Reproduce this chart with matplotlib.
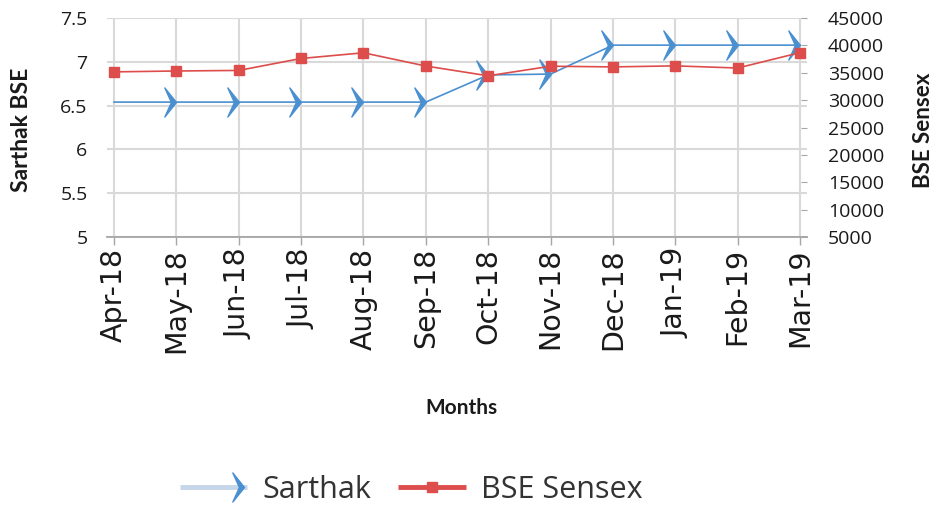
import numpy as np
import matplotlib
matplotlib.use("Agg")
import matplotlib.pyplot as plt
from matplotlib.path import Path
from matplotlib.lines import Line2D
from matplotlib.legend_handler import HandlerBase

# data
months = ['Apr-18', 'May-18', 'Jun-18', 'Jul-18', 'Aug-18', 'Sep-18',
          'Oct-18', 'Nov-18', 'Dec-18', 'Jan-19', 'Feb-19', 'Mar-19']
sarthak = [6.54, 6.54, 6.54, 6.54, 6.54, 6.54, 6.85, 6.86, 7.19, 7.19, 7.19, 7.19]
sensex = [35160, 35322, 35423, 37607, 38645, 36227, 34442, 36194, 36068, 36257, 35867, 38673]

blue = '#4a90d0'
red = '#dc4d4b'
grid_col = '#d9d9d9'
txt_col = '#1a1a1a'

# chevron marker, tip sits on the data point
chevron = Path([(-0.8, 1), (0, 0), (-0.8, -1), (-0.35, 0), (-0.8, 1)],
               [Path.MOVETO, Path.LINETO, Path.LINETO, Path.LINETO, Path.CLOSEPOLY])


# legend handle: thick line, marker either in the middle or at the right end
class LegHandle(HandlerBase):
    def __init__(self, line_col, at_end=False):
        super().__init__()
        self.line_col = line_col
        self.at_end = at_end

    def create_artists(self, legend, orig_handle, xdescent, ydescent, width, height, fontsize, trans):
        y = height / 2 - ydescent
        x0, x1 = -xdescent, width - xdescent
        line = Line2D([x0, x1], [y, y], lw=3.5, color=self.line_col, solid_capstyle='butt')
        xm = x1 - 2 if self.at_end else (x0 + x1) / 2
        mark = Line2D([xm], [y], ls='None', marker=orig_handle.get_marker(),
                      ms=orig_handle.get_markersize(), color=orig_handle.get_color())
        line.set_transform(trans)
        mark.set_transform(trans)
        return [line, mark]


fig = plt.figure(figsize=(9.37, 5.08), dpi=100)
ax = fig.add_axes([107/937, 1-237/508, 700/937, 219/508])
ax2 = ax.twinx()

x = np.arange(len(months))
l1, = ax.plot(x, sarthak, color=blue, lw=1.2, marker=chevron, ms=21,
              markevery=list(range(1, len(months))), label='Sarthak', zorder=3)
l2, = ax2.plot(x, sensex, color=red, lw=1.2, marker='s', ms=6.5,
               label='BSE Sensex', clip_on=False, zorder=3)

ax.set_xlim(-0.112, len(months) - 1 + 0.112)
ax.set_ylim(5, 7.5)
ax.set_yticks(np.arange(5, 7.51, 0.5))
ax.set_yticklabels(['5', '5.5', '6', '6.5', '7', '7.5'])
ax2.set_ylim(5000, 45000)
ax2.set_yticks(np.arange(5000, 45001, 5000))

ax.set_xticks(x)
ax.set_xticklabels(months, rotation=90, fontsize=20.5, family='DejaVu Sans', color=txt_col)

ax.grid(True, color=grid_col, lw=1.5)
ax.set_axisbelow(True)
for s in ['top', 'left', 'right']:
    ax.spines[s].set_visible(False)
    ax2.spines[s].set_visible(False)
ax2.spines['bottom'].set_visible(False)
ax.spines['bottom'].set_color('#a6a6a6')
ax.spines['bottom'].set_linewidth(1.3)

ax.tick_params(axis='x', direction='out', length=6, width=1, color='#a6a6a6', pad=2)
ax.tick_params(axis='y', length=0, pad=14, labelsize=14, labelcolor=txt_col)
ax2.tick_params(axis='y', direction='in', length=4, color='#a6a6a6', pad=15,
                labelsize=14, labelcolor=txt_col)
for lab in ax.get_yticklabels() + ax2.get_yticklabels():
    lab.set_family('Open Sans')

fig.text(461/937, 1-408/508, 'Months', ha='center', va='center',
         fontsize=15, fontweight='bold', family='Lato', color=txt_col)
fig.text(22/937, 1-130/508, 'Sarthak BSE', ha='center', va='center', rotation=90,
         fontsize=16.5, fontweight='bold', family='Lato', color=txt_col)
fig.text(924/937, 1-130/508, 'BSE Sensex', ha='center', va='center', rotation=90,
         fontsize=16, fontweight='bold', family='Lato', color=txt_col)

leg = fig.legend([l1, l2], ['Sarthak', 'BSE Sensex'], loc='center',
                 bbox_to_anchor=(411/937, 1-490/508), ncol=2, frameon=False,
                 prop={'family': 'Open Sans', 'size': 22}, handlelength=2.2,
                 columnspacing=0.9, handletextpad=0.5,
                 handler_map={l1: LegHandle('#c5d6e8', at_end=True),
                              l2: LegHandle(red)})
for t in leg.get_texts():
    t.set_color('#333333')

fig.savefig('out.png', dpi=100, facecolor='white')
